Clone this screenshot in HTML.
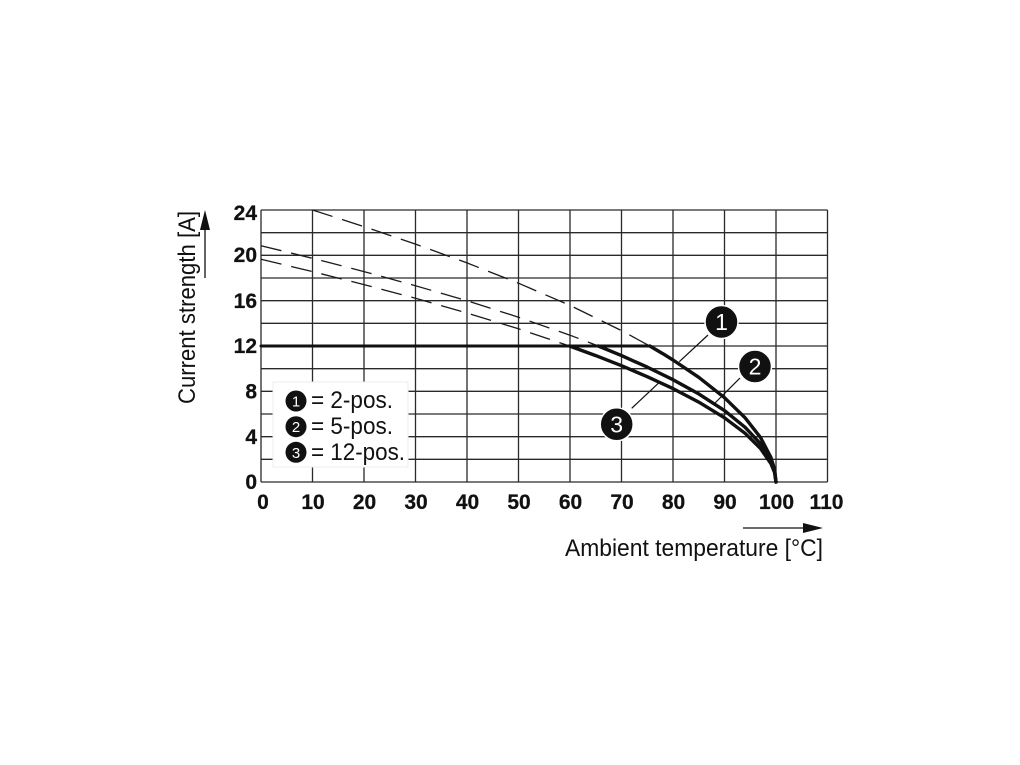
<!DOCTYPE html>
<html><head><meta charset="utf-8"><style>
html,body{margin:0;padding:0;background:#fff;}
svg{display:block;}
text{font-family:"Liberation Sans",Arial,sans-serif;}
</style></head><body>
<svg width="1020" height="765" viewBox="0 0 1020 765" xmlns="http://www.w3.org/2000/svg">
<rect width="1020" height="765" fill="#fff"/>
<g stroke="#2a2a2a" stroke-width="1.3" fill="none">
<line x1="261" y1="210" x2="261" y2="482"/>
<line x1="312.5" y1="210" x2="312.5" y2="482"/>
<line x1="364" y1="210" x2="364" y2="482"/>
<line x1="415.5" y1="210" x2="415.5" y2="482"/>
<line x1="467" y1="210" x2="467" y2="482"/>
<line x1="518.5" y1="210" x2="518.5" y2="482"/>
<line x1="570" y1="210" x2="570" y2="482"/>
<line x1="621.5" y1="210" x2="621.5" y2="482"/>
<line x1="673" y1="210" x2="673" y2="482"/>
<line x1="724.5" y1="210" x2="724.5" y2="482"/>
<line x1="776" y1="210" x2="776" y2="482"/>
<line x1="827.5" y1="210" x2="827.5" y2="482"/>
<line x1="261" y1="210" x2="827.5" y2="210"/>
<line x1="261" y1="232.67" x2="827.5" y2="232.67"/>
<line x1="261" y1="255.33" x2="827.5" y2="255.33"/>
<line x1="261" y1="278" x2="827.5" y2="278"/>
<line x1="261" y1="300.67" x2="827.5" y2="300.67"/>
<line x1="261" y1="323.33" x2="827.5" y2="323.33"/>
<line x1="261" y1="346" x2="827.5" y2="346"/>
<line x1="261" y1="368.67" x2="827.5" y2="368.67"/>
<line x1="261" y1="391.33" x2="827.5" y2="391.33"/>
<line x1="261" y1="414" x2="827.5" y2="414"/>
<line x1="261" y1="436.67" x2="827.5" y2="436.67"/>
<line x1="261" y1="459.33" x2="827.5" y2="459.33"/>
<line x1="261" y1="482" x2="827.5" y2="482"/>
</g>
<!-- dashed extensions -->
<g stroke="#1a1a1a" stroke-width="1.3" fill="none" stroke-dasharray="21 10">
<polyline points="312.5,210 364,226.6 415.5,244.1 467,262.9 518.5,283.2 570,305.4 621.5,330.6 649.8,346"/>
<polyline points="261,245.7 312.5,258.3 364,271.6 415.5,285.7 467,300.8 518.5,317.2 570,335.2 598.3,346"/>
<polyline points="261,259.3 312.5,271.6 364,284.6 415.5,298.3 467,313 518.5,328.8 569.5,346"/>
</g>
<!-- legend box -->
<rect x="273" y="382" width="135" height="85" fill="#fff" stroke="#ececec" stroke-width="1"/>
<!-- solid lines -->
<g stroke="#111" fill="none" stroke-linejoin="round" stroke-linecap="round">
<line x1="261" y1="346" x2="650" y2="346" stroke-width="3"/>
<polyline stroke-width="3.4" points="649.8,346 662.7,353.6 673,360 698.75,377.3 724.5,397.7 745.1,417.8 760.55,437.6 770.85,457.3 774.5,469 776,482"/>
<polyline stroke-width="3.4" points="598.3,346 621.5,355.6 647.25,367.1 673,379.7 698.75,393.9 724.5,410.6 745.1,427.3 760.55,443.8 770.85,460.4 774.5,470.5 776,482"/>
<polyline stroke-width="3.4" points="569.5,346 595.75,355.6 621.5,365.7 647.25,376.7 673,388.6 698.75,402.1 724.5,417.8 745.1,433.3 760.55,448.5 770.85,463.5 774.5,472.3 776,482"/>
</g>
<!-- leaders -->
<g stroke="#111" stroke-width="1.2">
<line x1="708" y1="335" x2="679.3" y2="361.7"/>
<line x1="740" y1="378" x2="715" y2="403"/>
<line x1="631.7" y1="408.3" x2="658.3" y2="383.3"/>
</g>
<!-- callouts -->
<g fill="#111" stroke="#fff" stroke-width="1.5">
<circle cx="721.5" cy="322" r="16.5"/>
<circle cx="755" cy="366.5" r="16.5"/>
<circle cx="616.7" cy="424.3" r="16.5"/>
</g>
<g fill="#fff" font-size="23" text-anchor="middle">
<text x="721.5" y="330">1</text>
<text x="755" y="374.5">2</text>
<text x="616.7" y="432.3">3</text>
</g>
<!-- legend -->
<g fill="#111">
<circle cx="296" cy="401" r="10.5"/>
<circle cx="296" cy="426.7" r="10.5"/>
<circle cx="296" cy="452.3" r="10.5"/>
</g>
<g fill="#fff" font-size="15" text-anchor="middle">
<text x="296" y="406.5">1</text>
<text x="296" y="432.2">2</text>
<text x="296" y="457.8">3</text>
</g>
<g fill="#111" font-size="24.5">
<text x="311" y="408" textLength="82" lengthAdjust="spacingAndGlyphs">= 2-pos.</text>
<text x="311" y="434" textLength="82" lengthAdjust="spacingAndGlyphs">= 5-pos.</text>
<text x="311" y="460" textLength="94" lengthAdjust="spacingAndGlyphs">= 12-pos.</text>
</g>
<!-- y tick labels -->
<g fill="#111" stroke="#111" stroke-width="0.25" font-size="21" font-weight="bold" text-anchor="end">
<text x="257" y="220">24</text>
<text x="257" y="262">20</text>
<text x="257" y="308">16</text>
<text x="257" y="353">12</text>
<text x="257" y="398.5">8</text>
<text x="257" y="444">4</text>
<text x="257" y="489">0</text>
</g>
<!-- x tick labels -->
<g fill="#111" stroke="#111" stroke-width="0.25" font-size="21" font-weight="bold" text-anchor="middle">
<text x="263" y="509">0</text>
<text x="313" y="509">10</text>
<text x="364.5" y="509">20</text>
<text x="416" y="509">30</text>
<text x="467.5" y="509">40</text>
<text x="519" y="509">50</text>
<text x="570.5" y="509">60</text>
<text x="622" y="509">70</text>
<text x="673.5" y="509">80</text>
<text x="725" y="509">90</text>
<text x="776.5" y="509">100</text>
<text x="826.5" y="509">110</text>
</g>
<!-- axis titles -->
<text x="565" y="556" font-size="24" fill="#111" textLength="258" lengthAdjust="spacingAndGlyphs">Ambient temperature [°C]</text>
<text transform="translate(195,404) rotate(-90)" x="0" y="0" font-size="24" fill="#111" textLength="193" lengthAdjust="spacingAndGlyphs">Current strength [A]</text>
<!-- arrows -->
<line x1="743" y1="528" x2="805" y2="528" stroke="#111" stroke-width="1.3"/>
<polygon points="823,528 803,523 803,533" fill="#111"/>
<line x1="205" y1="278" x2="205" y2="228" stroke="#111" stroke-width="1.3"/>
<polygon points="205,210 200,230 210,230" fill="#111"/>
</svg>
</body></html>
